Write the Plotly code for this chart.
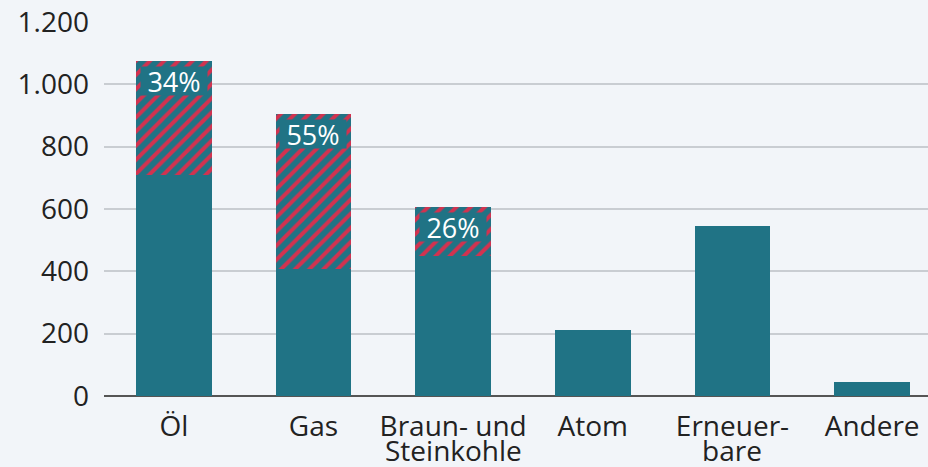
import plotly.graph_objects as go

categories = ["Öl", "Gas", "Braun- und<br>Steinkohle", "Atom", "Erneuer-<br>bare", "Andere"]
domestic = [710, 407, 448, 212, 545, 45]
imported = [365, 498, 158, 0, 0, 0]
import_share_labels = ["34%", "55%", "26%", None, None, None]
y_ticks = [0, 200, 400, 600, 800, 1000, 1200]

TEAL = "#207385"
RED = "#d3324f"
BG = "#f2f5f9"
FONT = "Open Sans"
TXT = "#222222"
FS = 28

x = list(range(len(categories)))
first_lines = [c.split("<br>")[0] for c in categories]
second_lines = [c.split("<br>")[1] if "<br>" in c else None for c in categories]

fig = go.Figure()
fig.add_trace(go.Bar(x=x, y=domestic, marker=dict(color=TEAL, line=dict(width=0)),
                     width=0.54, showlegend=False, hoverinfo="skip"))
fig.add_trace(go.Bar(x=x, y=imported,
                     marker=dict(color=TEAL, line=dict(width=0),
                                 pattern=dict(shape="/", bgcolor=TEAL, fgcolor=RED,
                                              fgopacity=1, size=10, solidity=0.4)),
                     width=0.54, showlegend=False, hoverinfo="skip"))

for i, lab in enumerate(import_share_labels):
    if lab:
        fig.add_annotation(x=i, y=domestic[i] + imported[i], yanchor="top", yshift=-5,
                           text=lab, showarrow=False, bgcolor=TEAL, width=64, height=26,
                           font=dict(family=FONT, size=27, color="white"))

for i, s in enumerate(second_lines):
    if s:
        fig.add_annotation(x=i, y=0, yref="paper", yanchor="top", yshift=-33,
                           text=s, showarrow=False,
                           font=dict(family=FONT, size=FS, color=TXT))

fig.update_layout(
    barmode="stack",
    width=928, height=467,
    margin=dict(l=104, r=0, t=22, b=71),
    paper_bgcolor=BG, plot_bgcolor=BG,
    separators=",.",
    font=dict(family=FONT, size=FS, color=TXT),
    xaxis=dict(tickmode="array", tickvals=x, ticktext=first_lines, range=[-0.5, 5.4],
               showgrid=False, zeroline=False, showline=False, ticks="",
               ticklabelstandoff=11, tickfont=dict(size=FS, color=TXT)),
    yaxis=dict(range=[0, 1200], tickvals=y_ticks, tickformat=",", showgrid=True,
               gridcolor="#c9cdd2", gridwidth=1.5, zeroline=True, zerolinecolor="#555555",
               zerolinewidth=2, showline=False, ticks="", ticklabelstandoff=14,
               tickfont=dict(size=FS, color=TXT)),
)

fig.write_html("out.html", config={"displayModeBar": False},
               post_script="document.body.style.margin='0';document.body.style.background='%s';" % BG)
